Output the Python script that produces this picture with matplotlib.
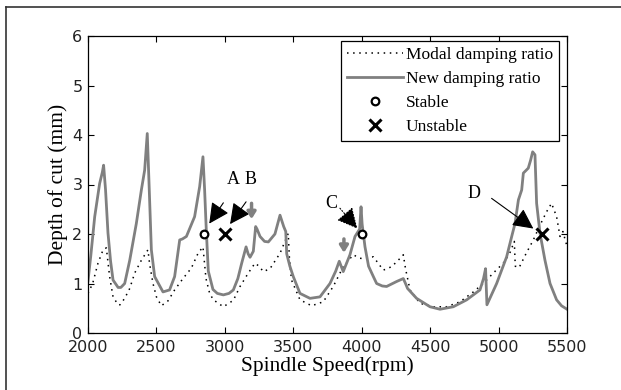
import matplotlib
matplotlib.use("Agg")
import matplotlib.pyplot as plt
from matplotlib.lines import Line2D

# ---------------- data ----------------
new_x = [2000, 2020, 2049, 2085, 2105, 2114, 2128, 2146, 2165, 2183, 2220, 2240, 2268,
         2305, 2353, 2390, 2414, 2433, 2445, 2463, 2487, 2548, 2596, 2633, 2670, 2690,
         2719, 2779, 2816, 2840, 2852, 2864, 2879, 2913, 2945, 2989, 3030, 3062, 3095,
         3123, 3155, 3170, 3184, 3208, 3225, 3235, 3257, 3290, 3318, 3366, 3403, 3430,
         3445, 3452, 3475, 3500, 3549, 3622, 3695, 3768, 3810, 3836, 3865, 3914, 3951,
         3985, 3995, 4003, 4024, 4050, 4085, 4109, 4150, 4182, 4255, 4304, 4320, 4335,
         4401, 4499, 4572, 4669, 4767, 4864, 4890, 4905, 4915, 4986, 5059, 5096, 5120,
         5145, 5169, 5181, 5217, 5234, 5249, 5266, 5278, 5303, 5339, 5376, 5424, 5460,
         5500]
new_y = [1.05, 1.55, 2.35, 3.02, 3.25, 3.39, 2.9, 2.02, 1.45, 1.07, 0.92, 0.92, 1.0,
         1.47, 2.21, 2.89, 3.29, 4.03, 3.1, 1.68, 1.14, 0.83, 0.87, 1.14, 1.88, 1.9,
         1.95, 2.35, 2.96, 3.56, 2.9, 2.1, 1.25, 0.88, 0.8, 0.77, 0.8, 0.87, 1.1,
         1.41, 1.74, 1.6, 1.53, 1.65, 2.15, 2.1, 1.95, 1.85, 1.84, 2.0, 2.38, 2.15,
         2.05, 1.6, 1.35, 1.14, 0.80, 0.70, 0.73, 1.0, 1.25, 1.45, 1.24, 1.58, 1.95,
         2.1, 2.55, 2.2, 1.74, 1.35, 1.14, 1.0, 0.95, 0.94, 1.04, 1.10, 1.0, 0.9,
         0.70, 0.53, 0.48, 0.53, 0.67, 0.87, 1.1, 1.3, 0.57, 1.0, 1.54, 1.95, 2.21,
         2.69, 2.89, 3.23, 3.33, 3.49, 3.66, 3.6, 2.62, 2.01, 1.47, 1.0, 0.67, 0.55,
         0.48]

mod_x = [2000, 2034, 2073, 2110, 2134, 2158, 2183, 2220, 2234, 2268, 2305, 2341, 2390,
         2438, 2450, 2475, 2500, 2536, 2585, 2633, 2694, 2755, 2804, 2840, 2862, 2889,
         2916, 2989, 3062, 3111, 3171, 3220, 3250, 3281, 3330, 3403, 3463, 3472, 3487,
         3549, 3634, 3719, 3792, 3865, 3938, 3987, 4024, 4085, 4158, 4219, 4292, 4304,
         4320, 4353, 4426, 4523, 4620, 4718, 4816, 4888, 4961, 5034, 5080, 5115, 5122,
         5150, 5200, 5254, 5303, 5351, 5387, 5424, 5449, 5470, 5500]
mod_y = [0.80, 1.0, 1.41, 1.68, 1.72, 1.14, 0.73, 0.57, 0.57, 0.70, 0.90, 1.21, 1.47,
         1.68, 1.4, 1.0, 0.73, 0.55, 0.65, 0.87, 1.1, 1.31, 1.61, 1.74, 1.1, 0.8,
         0.67, 0.53, 0.66, 0.94, 1.21, 1.41, 1.35, 1.24, 1.3, 1.61, 2.01, 1.5, 1.07,
         0.67, 0.55, 0.63, 0.94, 1.34, 1.58, 1.51, 1.5, 1.54, 1.27, 1.34, 1.54, 1.58,
         1.3, 0.87, 0.60, 0.53, 0.53, 0.63, 0.83, 1.0, 1.21, 1.41, 1.6, 1.85, 1.35,
         1.32, 1.6, 1.88, 2.18, 2.45, 2.62, 2.35, 1.95, 2.05, 1.75]

stable_x = [2850, 4000]
stable_y = [2.0, 2.0]
unstable_x = [3000, 5320]
unstable_y = [2.0, 2.0]

labels = ["A", "B", "C", "D"]
label_pos = [(3062, 3.1), (3189, 3.1), (3780, 2.62), (4820, 2.82)]
arrow_tail = [(2989, 2.63), (3155, 2.65), (3841, 2.52), (4949, 2.72)]
arrow_tip = [(2886, 2.21), (3038, 2.2), (3968, 2.11), (5254, 2.11)]
arrow_style = ["solid", "solid", "dotted", "solid"]

gray_marks = [(3195, 2.62, 2.3), (3870, 1.9, 1.62)]

xticks = [2000, 2500, 3000, 3500, 4000, 4500, 5000, 5500]
yticks = [0, 1, 2, 3, 4, 5, 6]

# ---------------- figure ----------------
serif = ["Liberation Serif", "DejaVu Serif"]
fig = plt.figure(figsize=(6.21, 3.90), dpi=100)
ax = fig.add_axes([88 / 621, 57 / 390, 479 / 621, 297 / 390])

gray = "#808080"
ax.plot(mod_x, mod_y, color="black", lw=1.1, linestyle=(0, (1, 3)),
        label="Modal damping ratio")
ax.plot(new_x, new_y, color=gray, lw=2.0, label="New damping ratio")
ax.plot(stable_x, stable_y, linestyle="none", marker="o", ms=5.5, mfc="white",
        mec="black", mew=1.6, label="Stable")
ax.plot(unstable_x, unstable_y, linestyle="none", marker="x", ms=8.5,
        mec="black", mew=2.2, label="Unstable")

for lab, lp, tail, tip, ls in zip(labels, label_pos, arrow_tail, arrow_tip, arrow_style):
    ax.text(lp[0], lp[1], lab, fontsize=13, family=serif, ha="center", va="center")
    ax.annotate("", xy=tip, xytext=tail,
                arrowprops=dict(arrowstyle="-|>,head_length=0.9,head_width=0.45",
                                color="black", lw=0.8, linestyle=ls,
                                mutation_scale=14, shrinkA=0, shrinkB=0))

for gx, y0, y1 in gray_marks:
    ax.annotate("", xy=(gx, y1), xytext=(gx, y0),
                arrowprops=dict(arrowstyle="-|>,head_length=0.4,head_width=0.25",
                                color=gray, lw=2.5, mutation_scale=10,
                                shrinkA=0, shrinkB=0))

ax.set_xlim(2000, 5500)
ax.set_ylim(0, 6)
ax.set_xticks(xticks)
ax.set_yticks(yticks)
ax.tick_params(direction="in", length=4, width=0.8, top=True, right=True,
               labelsize=11.5, pad=5)
ax.tick_params(axis="y", pad=4)
for lbl in ax.get_xticklabels() + ax.get_yticklabels():
    lbl.set_family("DejaVu Sans")
    lbl.set_color("#222222")
for sp in ax.spines.values():
    sp.set_linewidth(0.9)

ax.set_xlabel("Spindle Speed(rpm)", fontsize=15.5, family=serif, labelpad=1)
ax.set_ylabel("Depth of cut (mm)", fontsize=15.5, family=serif, labelpad=3)

leg = ax.legend(loc="upper right", bbox_to_anchor=(0.983, 0.983), borderaxespad=0,
                prop={"family": serif, "size": 12.5}, fancybox=False,
                edgecolor="black", framealpha=1, handlelength=3.2,
                handletextpad=0.15, labelspacing=0.45, borderpad=0.35)
leg.get_frame().set_linewidth(0.9)

# figure border (left and top edges visible)
fig.add_artist(Line2D([6 / 621, 6 / 621], [0, 1 - 7 / 390], color="#333333",
                      lw=1.2, transform=fig.transFigure))
fig.add_artist(Line2D([6 / 621, 1], [1 - 7 / 390, 1 - 7 / 390], color="#333333",
                      lw=1.2, transform=fig.transFigure))

fig.savefig("out.png", dpi=100)
